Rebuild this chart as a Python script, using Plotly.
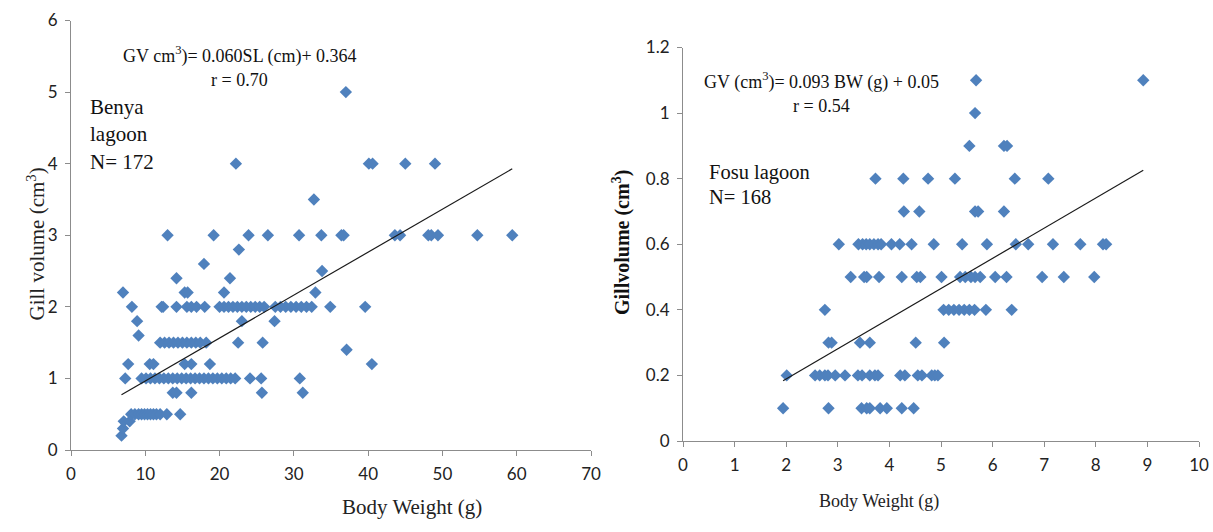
import numpy as np
import plotly.graph_objects as go

# ---------------- Data: Benya lagoon ----------------
benya_bw = [
    6.8, 7.0, 7.1, 7.9,
    8.1, 8.6, 9.1, 9.5, 9.9, 10.3, 10.7, 11.1, 11.5, 12.0, 12.9, 14.7,
    13.7, 14.2, 16.2, 25.7, 31.2,
    7.3, 9.5, 10.1, 10.7, 11.3, 11.9, 12.5, 13.1, 13.7, 14.3, 14.9, 15.5, 16.1, 16.7,
    17.3, 17.9, 18.5, 19.1, 19.7, 20.3, 20.9, 21.5, 22.1, 24.1, 25.6, 30.8,
    7.7, 10.6, 11.1, 15.3, 16.2, 18.7, 40.5,
    37.1,
    12.0, 12.6, 13.2, 13.8, 14.4, 15.0, 15.6, 16.2, 16.8, 17.4, 18.2, 22.5, 25.8,
    9.1,
    8.9, 23.0, 27.4,
    8.2, 12.2, 12.4, 14.2, 15.6, 16.2, 16.9, 18.0,
    20.0, 20.6, 21.2, 21.8, 22.4, 23.0, 23.6, 24.2, 24.8, 25.4, 26.0,
    27.5, 28.2, 28.9, 29.6, 30.3, 31.0, 31.7, 32.4, 34.9, 39.6,
    7.0, 15.3, 15.7, 20.6, 32.9,
    14.2, 21.4,
    33.8,
    17.9,
    22.6,
    13.0, 19.2, 23.9, 26.5, 30.7, 33.7, 36.4, 36.7, 43.6, 44.3, 48.1, 48.5, 49.4, 54.7, 59.4,
    32.7,
    22.2, 40.1, 40.6, 45.0, 49.0,
    37.0,
]
benya_gv = (
    [0.2, 0.3, 0.4, 0.4]
    + [0.5] * 12
    + [0.8] * 5
    + [1.0] * 26
    + [1.2] * 7
    + [1.4]
    + [1.5] * 13
    + [1.6]
    + [1.8] * 3
    + [2.0] * 8
    + [2.0] * 11
    + [2.0] * 10
    + [2.2] * 5
    + [2.4] * 2
    + [2.5]
    + [2.6]
    + [2.8]
    + [3.0] * 15
    + [3.5]
    + [4.0] * 5
    + [5.0]
)

# ---------------- Data: Fosu lagoon ----------------
fosu_bw = [
    1.94, 2.82, 3.46, 3.56, 3.62, 3.82, 3.95, 4.24, 4.47,
    2.01, 2.56, 2.65, 2.75, 2.81, 2.95, 3.14, 3.39, 3.47, 3.62, 3.72, 3.78,
    4.21, 4.30, 4.55, 4.63, 4.82, 4.88, 4.94,
    2.82, 2.88, 3.43, 3.62, 4.51, 5.06,
    2.75, 5.05, 5.15, 5.25, 5.35, 5.45, 5.55, 5.65, 5.87, 6.37,
    3.25, 3.51, 3.56, 3.80, 4.24, 4.53, 4.60, 5.01, 5.37, 5.47, 5.58, 5.66, 5.76,
    6.05, 6.27, 6.96, 7.38, 7.97,
    3.02, 3.40, 3.48, 3.55, 3.62, 3.70, 3.78, 3.84, 4.04, 4.20, 4.43, 4.86, 5.41,
    5.89, 6.45, 6.69, 7.17, 7.70, 8.14, 8.20,
    4.28, 4.58, 5.66, 5.72, 6.22,
    3.73, 4.27, 4.75, 5.27, 6.43, 7.08,
    5.55, 6.22, 6.28,
    5.66,
    5.68, 8.92,
]
fosu_gv = (
    [0.1] * 9
    + [0.2] * 19
    + [0.3] * 6
    + [0.4] * 10
    + [0.5] * 18
    + [0.6] * 20
    + [0.7] * 5
    + [0.8] * 6
    + [0.9] * 3
    + [1.0]
    + [1.1] * 2
)

# trend lines as drawn (slope, intercept)
benya_trend = (0.060, 0.364)
fosu_trend = (0.092, 0.005)

benya_xticks = [0, 10, 20, 30, 40, 50, 60, 70]
benya_yticks = [0, 1, 2, 3, 4, 5, 6]
fosu_xticks = list(range(0, 11))
fosu_yticks = [0, 0.2, 0.4, 0.6, 0.8, 1.0, 1.2]

BLUE = "#4F81BD"
AXIS = "#8c8c8c"
SERIF = "Liberation Serif"
TICKFONT = dict(family="Lato", size=17, color="#222222")

fig = go.Figure()

fig.add_trace(go.Scatter(x=benya_bw, y=benya_gv, mode="markers",
                         marker=dict(symbol="diamond", size=9.5, color=BLUE),
                         xaxis="x", yaxis="y", showlegend=False))
bx = np.array([min(benya_bw), max(benya_bw)])
fig.add_trace(go.Scatter(x=bx, y=benya_trend[0] * bx + benya_trend[1], mode="lines",
                         line=dict(color="#1a1a1a", width=1.2),
                         xaxis="x", yaxis="y", showlegend=False))

fig.add_trace(go.Scatter(x=fosu_bw, y=fosu_gv, mode="markers",
                         marker=dict(symbol="diamond", size=9.5, color=BLUE),
                         xaxis="x2", yaxis="y2", showlegend=False))
fx = np.array([min(fosu_bw), max(fosu_bw)])
fig.add_trace(go.Scatter(x=fx, y=fosu_trend[0] * fx + fosu_trend[1], mode="lines",
                         line=dict(color="#1a1a1a", width=1.2),
                         xaxis="x2", yaxis="y2", showlegend=False))

axis_common = dict(showgrid=False, zeroline=False, showline=True, linecolor=AXIS,
                   linewidth=1, ticks="outside", ticklen=5, tickcolor=AXIS,
                   tickfont=TICKFONT, automargin=False, fixedrange=True,
                   ticklabeloverflow="allow")

fig.update_layout(
    width=1213, height=532, autosize=False,
    margin=dict(l=0, r=0, t=0, b=0),
    paper_bgcolor="white", plot_bgcolor="white",
    xaxis=dict(domain=[71 / 1213, 591 / 1213], range=[0, 70], tickvals=benya_xticks,
               anchor="y", ticklabelstandoff=4, **axis_common),
    yaxis=dict(domain=[(532 - 450) / 532, (532 - 20.5) / 532], range=[0, 6],
               tickvals=benya_yticks, anchor="x", ticklabelstandoff=4, **axis_common),
    xaxis2=dict(domain=[683 / 1213, 1199 / 1213], range=[0, 10], tickvals=fosu_xticks,
                anchor="y2", ticklabelstandoff=4, **axis_common),
    yaxis2=dict(domain=[(532 - 441) / 532, (532 - 47.5) / 532], range=[0, 1.2],
                tickvals=fosu_yticks, anchor="x2", ticklabelstandoff=4, **axis_common),
)

ann = []
# Left chart text
ann.append(dict(x=22.7, y=5.52, xref="x", yref="y", text="GV cm<sup>3</sup>)= 0.060SL (cm)+ 0.364",
                showarrow=False, font=dict(family=SERIF, size=18, color="#111")))
ann.append(dict(x=22.7, y=5.17, xref="x", yref="y", text="r = 0.70",
                showarrow=False, font=dict(family=SERIF, size=18, color="#111")))
for txt, yy in [("Benya", 4.79), ("lagoon", 4.41), ("N= 172", 4.03)]:
    ann.append(dict(x=2.3, y=yy, xref="x", yref="y", text=txt, xanchor="left",
                    showarrow=False, font=dict(family=SERIF, size=21, color="#111")))
# Right chart text
ann.append(dict(x=2.69, y=1.098, xref="x2", yref="y2", text="GV (cm<sup>3</sup>)= 0.093 BW (g) + 0.05",
                showarrow=False, font=dict(family=SERIF, size=18, color="#111")))
ann.append(dict(x=2.69, y=1.021, xref="x2", yref="y2", text="r = 0.54",
                showarrow=False, font=dict(family=SERIF, size=18, color="#111")))
ann.append(dict(x=0.47, y=0.82, xref="x2", yref="y2", text="Fosu lagoon", xanchor="left",
                showarrow=False, font=dict(family=SERIF, size=20.5, color="#111")))
ann.append(dict(x=0.47, y=0.743, xref="x2", yref="y2", text="N= 168", xanchor="left",
                showarrow=False, font=dict(family=SERIF, size=20.5, color="#111")))
# Axis titles
ann.append(dict(x=340 / 1213, y=1 - 521 / 532, xref="paper", yref="paper",
                text="Body Weight (g)", showarrow=False,
                font=dict(family=SERIF, size=21, color="#222")))
ann.append(dict(x=20 / 1213, y=1 - 244 / 532, xref="paper", yref="paper",
                text="Gill volume (cm<sup>3</sup>)", showarrow=False, textangle=-90,
                font=dict(family=SERIF, size=21, color="#222")))
ann.append(dict(x=941 / 1213, y=1 - 514 / 532, xref="paper", yref="paper",
                text="Body Weight (g)", showarrow=False,
                font=dict(family=SERIF, size=18, color="#222")))
ann.append(dict(x=621 / 1213, y=1 - 243 / 532, xref="paper", yref="paper",
                text="<b>Gillvolume (cm<sup>3</sup>)</b>", showarrow=False, textangle=-90,
                font=dict(family=SERIF, size=20, color="#111")))
fig.update_layout(annotations=ann)

fig.write_html("out.html", config={"displayModeBar": False},
               post_script="document.body.style.margin='0';document.body.style.overflow='hidden';")
